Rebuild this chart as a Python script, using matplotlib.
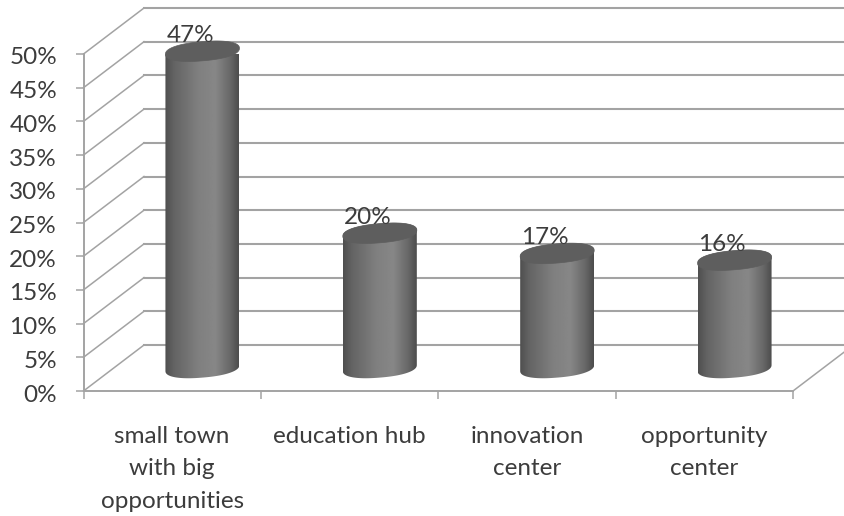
import numpy as np
import matplotlib
matplotlib.use("Agg")
import matplotlib.pyplot as plt
from matplotlib.patches import Polygon
from matplotlib.transforms import Affine2D

categories = ["small town\nwith big\nopportunities", "education hub", "innovation\ncenter", "opportunity\ncenter"]
values = [47, 20, 17, 16]
y_ticks = [0, 5, 10, 15, 20, 25, 30, 35, 40, 45, 50]

plt.rcParams['font.family'] = ['Lato', 'DejaVu Sans']
W, H = 844, 516
LINE = "#a3a3a3"
TEXT = "#3c3c3c"

fig = plt.figure(figsize=(W / 100, H / 100), dpi=100)
ax = fig.add_axes([83.5 / W, 1 - 391 / H, (793 - 83.5) / W, (391 - 54) / H])
ax.set_xlim(0, 4)
ax.set_ylim(0, 50)

# depth of the fake 3d box, in pixels
depth_x, depth_y = 60.5, 46
back = ax.transData + Affine2D().translate(depth_x, depth_y)
mid = ax.transData + Affine2D().translate(depth_x / 2, depth_y / 2)

# walls and floor
for v in y_ticks:
    ax.plot([0, 4], [v, v], color=LINE, lw=1.5, clip_on=False, zorder=1, transform=back)
    x0, y0 = ax.transData.transform((0, v))
    x1, y1 = back.transform((0, v))
    ax.plot([x0, x1], [y0, y1], color=LINE, lw=1.1, clip_on=False, zorder=1, transform=None)
x0, y0 = ax.transData.transform((4, 0))
x1, y1 = back.transform((4, 0))
ax.plot([x0, x1], [y0, y1], color=LINE, lw=1.1, clip_on=False, zorder=1, transform=None)

for side in ['top', 'right']:
    ax.spines[side].set_visible(False)
for side in ['left', 'bottom']:
    ax.spines[side].set_color(LINE)
    ax.spines[side].set_linewidth(1.4)

ax.set_yticks(y_ticks)
ax.set_yticklabels([f"{v}%" for v in y_ticks])
ax.set_xticks(range(5))
ax.set_xticklabels([])
ax.set_xticks(np.arange(len(categories)) + 0.5, minor=True)
ax.set_xticklabels(categories, minor=True, linespacing=1.67)
ax.tick_params(axis='y', length=6, width=1.1, color=LINE, labelsize=17.5, labelcolor=TEXT, pad=13)
ax.tick_params(axis='x', which='major', length=6, width=1.1, color=LINE)
ax.tick_params(axis='x', which='minor', length=0, labelsize=17.5, labelcolor=TEXT, pad=25)
for lab in ax.get_yticklabels():
    lab.set_transform(lab.get_transform() + Affine2D().translate(0, -2))

# cylinders
half_w = 37 / (ax.get_window_extent().width / 4)
per_px = 50 / ax.get_window_extent().height
ell_b = 9.6 * per_px
ell_s = 3.0 * per_px


def rim(t):
    # slightly squared ellipse so the ends stay round, like the original shape
    cx = np.sign(np.cos(t)) * np.abs(np.cos(t)) ** 0.88
    cy = np.sign(np.sin(t)) * np.abs(np.sin(t)) ** 0.88
    return half_w * cx, ell_s * cx + ell_b * cy


t_low = np.linspace(np.pi, 2 * np.pi, 60)
t_up = np.linspace(0, np.pi, 60)
t_all = np.linspace(0, 2 * np.pi, 120)
shade = np.interp(np.linspace(0, 1, 200), [0, 0.12, 0.45, 0.68, 0.88, 1],
                  [0.31, 0.39, 0.50, 0.53, 0.41, 0.30])[None, :]

for i, v in enumerate(values):
    c = i + 0.5
    low_x, low_y = rim(t_low)
    up_x, up_y = rim(t_up)
    body = Polygon(np.c_[c + np.r_[low_x, up_x], np.r_[low_y, v + up_y]], closed=True,
                   transform=mid, fc='none', ec='none', clip_on=False)
    ax.add_patch(body)
    im = ax.imshow(shade, cmap='gray', vmin=0, vmax=1, aspect='auto', zorder=3,
                   extent=[c - half_w, c + half_w, -5, v + 5], transform=mid)
    im.set_clip_path(body)

    all_x, all_y = rim(t_all)
    top = Polygon(np.c_[c + all_x, v + all_y], closed=True, transform=mid, fc="#5e5e5e",
                  ec="#5e5e5e", lw=0.5, clip_on=False, zorder=4)
    ax.add_patch(top)

    ax.annotate(f"{v}%", (c, v), xytext=(18, 39), textcoords='offset pixels', ha='center',
                va='center', fontsize=17.5, color=TEXT, zorder=5, annotation_clip=False)

ax.set_xlim(0, 4)
ax.set_ylim(0, 50)
ax.patch.set_visible(False)

fig.savefig("out.png", dpi=100)
